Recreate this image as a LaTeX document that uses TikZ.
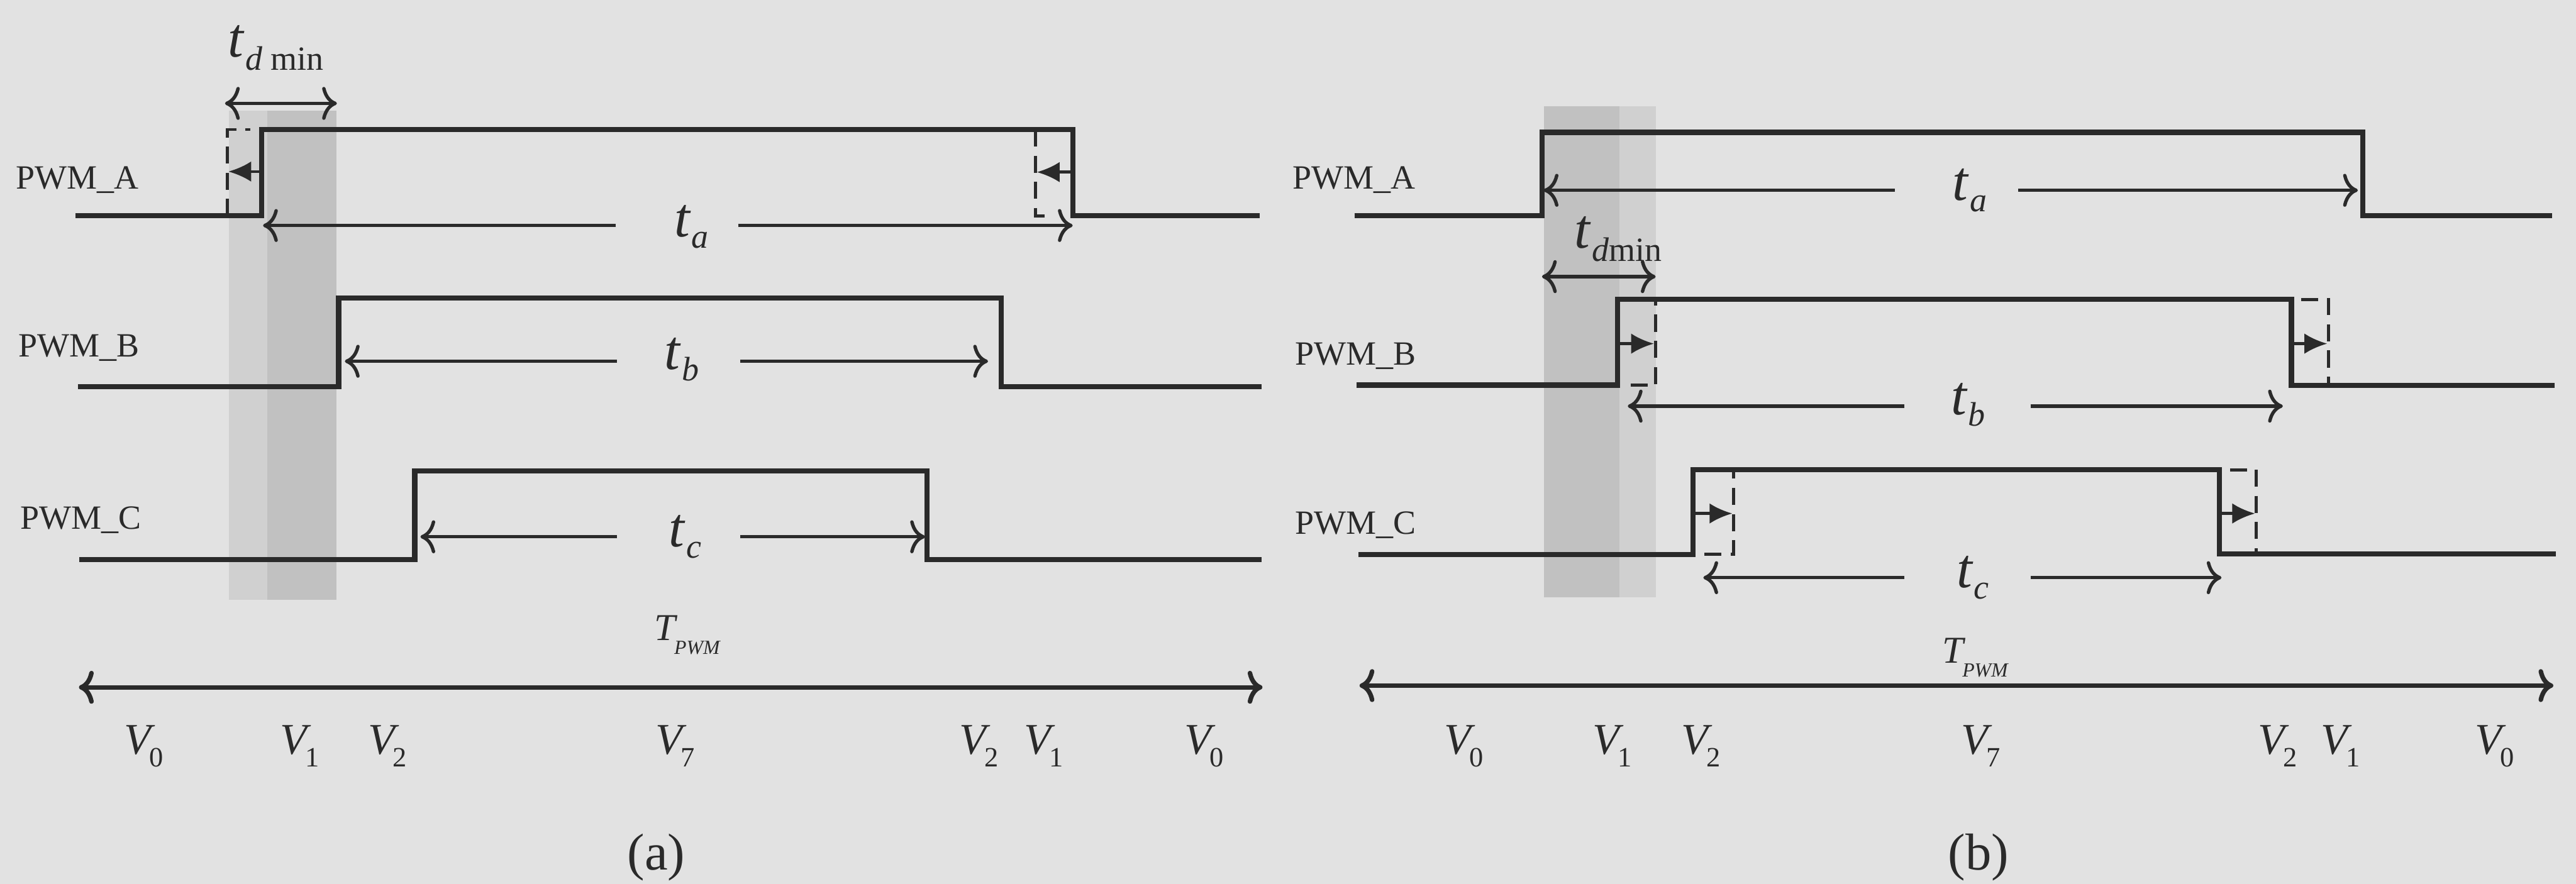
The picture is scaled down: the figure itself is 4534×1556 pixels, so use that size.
\documentclass[tikz,border=0pt]{standalone}
\usepackage{fontspec}
\setmainfont{Liberation Serif}
\usetikzlibrary{arrows.meta}
\definecolor{bgc}{HTML}{E2E2E2}
\definecolor{ink}{HTML}{2A2A2A}
\definecolor{bandl}{HTML}{D0D0D0}
\definecolor{bandd}{HTML}{C1C1C1}
\newcommand{\tlab}[1]{{\fontsize{28}{28}\selectfont\itshape t}\kern0.03cm\raisebox{-0.2cm}{\fontsize{17}{17}\selectfont\itshape #1}}
\newcommand{\tdm}[1]{{\fontsize{28}{28}\selectfont\itshape t}\kern0.04cm\raisebox{-0.23cm}{\fontsize{17}{17}\selectfont\itshape d#1\upshape min}}
\newcommand{\vlab}[1]{{\fontsize{22}{22}\selectfont\itshape V}\kern-0.03cm\raisebox{-0.22cm}{\fontsize{14}{14}\selectfont #1}}
\newcommand{\tpwm}{{\fontsize{19}{19}\selectfont\itshape T}\kern-0.02cm\raisebox{-0.25cm}{\fontsize{10}{10}\selectfont\itshape PWM}}
\begin{document}
\begin{tikzpicture}[x=0.01cm,y=-0.01cm,
  sig/.style={draw=ink,line width=0.09cm,line join=miter,line cap=butt},
  dim/.style={draw=ink,line width=0.06cm,>={Computer Modern Rightarrow[length=0.26cm,width=0.58cm]}},
  dashln/.style={draw=ink,line width=0.055cm,dash pattern=on 0.3cm off 0.16cm},
  movearrow/.style={draw=ink,line width=0.05cm,-{Latex[length=0.4cm,width=0.36cm]}},
  pwm/.style={inner sep=0,anchor=base west,font=\fontsize{17}{17}\selectfont,text=ink},
  lbl/.style={inner sep=0,anchor=base west,text=ink},
  vl/.style={inner sep=0,anchor=base,text=ink},
  panellbl/.style={inner sep=0,anchor=base,text=ink,font=\fontsize{26}{26}\selectfont}]
\useasboundingbox (0,0) rectangle (4534,1556);
\clip (0,0) rectangle (4534,1556);
\fill[bgc] (0,0) rectangle (4534,1556);
% ================= panel (a) =================
\fill[bandl] (403,195) rectangle (470,1056);
\fill[bandd] (470,195) rectangle (592,1056);
% labels
\node[pwm] (aA) at (28,333) {PWM\_A};
\node[pwm] (aB) at (32,628) {PWM\_B};
\node[pwm] (aC) at (35,931) {PWM\_C};
% PWM_A
\draw[sig] (133,380) -- (460,380) -- (460,228) -- (1888,228) -- (1888,380) -- (2217,380);
\draw[dashln] (400,380) -- (400,228) -- (440,228);
\draw[dashln] (1823,228) -- (1823,380) -- (1850,380);
\coordinate (aAs1) at (460,302); \coordinate (aAe1) at (402,302);
\coordinate (aAs2) at (1888,303); \coordinate (aAe2) at (1825,303);
\draw[movearrow] (aAs1) -- (aAe1);
\draw[movearrow] (aAs2) -- (aAe2);
% t_a
\node[lbl] (ata) at (1186,417) {\tlab{a}};
\coordinate (ata1) at (1084,397); \coordinate (ata2) at (1299,397);
\coordinate (atal) at (463,397); \coordinate (atar) at (1888,397);
\draw[dim,->] (ata1) -- (atal);
\draw[dim,->] (ata2) -- (atar);
% PWM_B
\draw[sig] (137,681) -- (596,681) -- (596,525) -- (1762,525) -- (1762,681) -- (2221,681);
\node[lbl] (atb) at (1169,650) {\tlab{b}};
\coordinate (atb1) at (1086,636); \coordinate (atb2) at (1303,636);
\coordinate (atbl) at (607,636); \coordinate (atbr) at (1739,636);
\draw[dim,->] (atb1) -- (atbl);
\draw[dim,->] (atb2) -- (atbr);
% PWM_C
\draw[sig] (140,985) -- (730,985) -- (730,829) -- (1632,829) -- (1632,985) -- (2221,985);
\node[lbl] (atc) at (1177,962) {\tlab{c}};
\coordinate (atc1) at (1086,945); \coordinate (atc2) at (1303,945);
\coordinate (atcl) at (740,945); \coordinate (atcr) at (1628,945);
\draw[dim,->] (atc1) -- (atcl);
\draw[dim,->] (atc2) -- (atcr);
% t_d min
\node[lbl] (atd) at (400,100) {\tdm{\ }};
\coordinate (atdl) at (396,182); \coordinate (atdr) at (593,182);
\draw[dim,<->] (atdl) -- (atdr);
% T_PWM
\node[lbl] (atp) at (1151,1127) {\tpwm};
\coordinate (atpl) at (139,1210); \coordinate (atpr) at (2222,1210);
\draw[dim,<->,line width=0.08cm] (atpl) -- (atpr);
% V labels
\node[vl] (av0) at (253,1328) {\vlab{0}};
\node[vl] (av1) at (528,1328) {\vlab{1}};
\node[vl] (av2) at (682,1328) {\vlab{2}};
\node[vl] (av7) at (1188,1328) {\vlab{7}};
\node[vl] (av2b) at (1723,1328) {\vlab{2}};
\node[vl] (av1b) at (1837,1328) {\vlab{1}};
\node[vl] (av0b) at (2119,1328) {\vlab{0}};
\node[panellbl] (capa) at (1155,1531) {(a)};
% ================= panel (b) =================
\fill[bandd] (2718,187) rectangle (2850,1052);
\fill[bandl] (2850,187) rectangle (2915,1052);
\node[pwm] (bA) at (2275,333) {PWM\_A};
\node[pwm] (bB) at (2279,643) {PWM\_B};
\node[pwm] (bC) at (2279,940) {PWM\_C};
% PWM_A
\draw[sig] (2384,380) -- (2714,380) -- (2714,233) -- (4159,233) -- (4159,380) -- (4492,380);
\node[lbl] (bta) at (3436,353) {\tlab{a}};
\coordinate (bta1) at (3335,335); \coordinate (bta2) at (3552,335);
\coordinate (btal) at (2717,335); \coordinate (btar) at (4150,335);
\draw[dim,->] (bta1) -- (btal);
\draw[dim,->] (bta2) -- (btar);
% t_d min
\node[lbl] (btd) at (2770,437) {\tdm{}};
\coordinate (btdl) at (2714,487); \coordinate (btdr) at (2914,487);
\draw[dim,<->] (btdl) -- (btdr);
% PWM_B
\draw[sig] (2388,678) -- (2847,678) -- (2847,527) -- (4033,527) -- (4033,679) -- (4496,679);
\draw[dashln] (2870,678) -- (2914,678) -- (2914,527);
\draw[dashln] (4050,527) -- (4098,527) -- (4098,679);
\coordinate (bBs1) at (2850,605); \coordinate (bBe1) at (2911,605);
\coordinate (bBs2) at (4036,605); \coordinate (bBe2) at (4096,605);
\draw[movearrow] (bBs1) -- (bBe1);
\draw[movearrow] (bBs2) -- (bBe2);
\node[lbl] (btb) at (3433,730) {\tlab{b}};
\coordinate (btb1) at (3352,715); \coordinate (btb2) at (3574,715);
\coordinate (btbl) at (2865,715); \coordinate (btbr) at (4018,715);
\draw[dim,->] (btb1) -- (btbl);
\draw[dim,->] (btb2) -- (btbr);
% PWM_C
\draw[sig] (2391,976) -- (2980,976) -- (2980,827) -- (3906,827) -- (3906,975) -- (4499,975);
\draw[dashln] (3000,976) -- (3051,976) -- (3051,827);
\draw[dashln] (3925,827) -- (3971,827) -- (3971,975);
\coordinate (bCs1) at (2984,904); \coordinate (bCe1) at (3049,904);
\coordinate (bCs2) at (3910,904); \coordinate (bCe2) at (3969,904);
\draw[movearrow] (bCs1) -- (bCe1);
\draw[movearrow] (bCs2) -- (bCe2);
\node[lbl] (btc) at (3443,1034) {\tlab{c}};
\coordinate (btc1) at (3352,1017); \coordinate (btc2) at (3574,1017);
\coordinate (btcl) at (2998,1017); \coordinate (btcr) at (3910,1017);
\draw[dim,->] (btc1) -- (btcl);
\draw[dim,->] (btc2) -- (btcr);
% T_PWM
\node[lbl] (btp) at (3418,1167) {\tpwm};
\coordinate (btpl) at (2393,1207); \coordinate (btpr) at (4494,1207);
\draw[dim,<->,line width=0.08cm] (btpl) -- (btpr);
\node[vl] (bv0) at (2577,1328) {\vlab{0}};
\node[vl] (bv1) at (2838,1328) {\vlab{1}};
\node[vl] (bv2) at (2994,1328) {\vlab{2}};
\node[vl] (bv7) at (3486,1328) {\vlab{7}};
\node[vl] (bv2b) at (4009,1328) {\vlab{2}};
\node[vl] (bv1b) at (4120,1328) {\vlab{1}};
\node[vl] (bv0b) at (4391,1328) {\vlab{0}};
\node[panellbl] (capb) at (3482,1531) {(b)};
\end{tikzpicture}
\end{document}
